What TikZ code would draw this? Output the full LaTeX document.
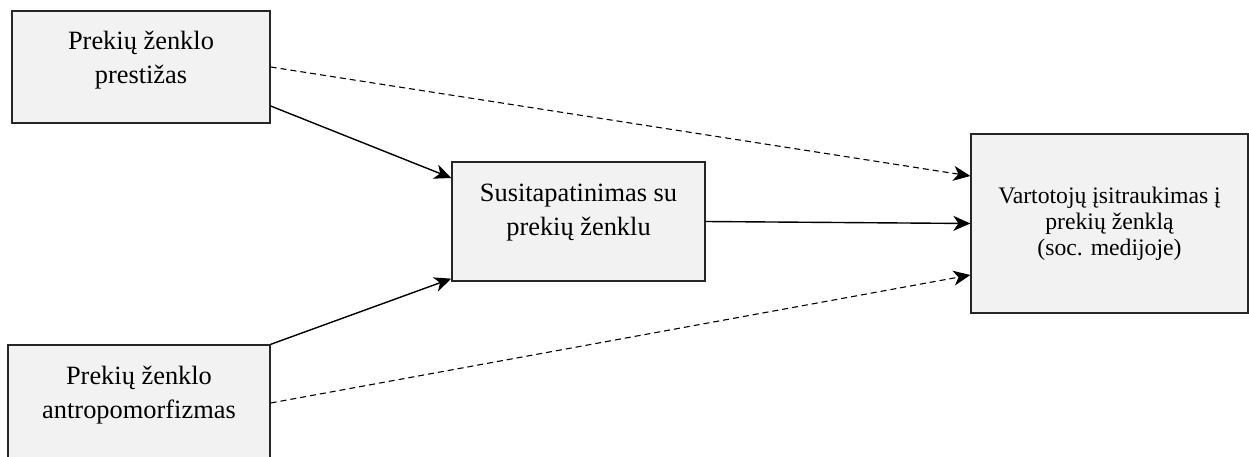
\documentclass[tikz,border=0pt]{standalone}
\usepackage{fontspec}
\setmainfont{Liberation Serif}
\usetikzlibrary{arrows.meta}
\definecolor{boxfill}{HTML}{F2F2F2}
\begin{document}
\begin{tikzpicture}[x=1pt,y=-1pt,
  box/.style={draw=black!85,line width=1.3pt,fill=boxfill,rectangle,inner sep=0pt},
  bigtext/.style={align=center,font=\fontsize{26.4}{34}\selectfont,inner sep=0pt},
  smalltext/.style={align=center,font=\fontsize{23.7}{25.8}\selectfont,inner sep=0pt},
  link/.style={line width=1.4pt,-{Stealth[length=17pt,width=15pt,inset=5pt]}},
  dashlink/.style={link,line width=1.1pt,dash pattern=on 6pt off 4pt}]
\useasboundingbox (0,0) rectangle (1249,457);

% boxes
\node[box,minimum width=258pt,minimum height=112pt] (prest) at (141,67) {};
\node[box,minimum width=262pt,minimum height=116pt] (antro) at (139,403) {};
\node[box,minimum width=253pt,minimum height=119pt] (ident) at (578.5,221.5) {};
\node[box,minimum width=277pt,minimum height=179pt] (engage) at (1109.5,223.5) {};

% box labels
\node[bigtext] (prestT) at (141,60) {Prekių ženklo\\prestižas};
\node[bigtext] (antroT) at (139,395.5) {Prekių ženklo\\antropomorfizmas};
\node[bigtext] (identT) at (578.5,213) {Susitapatinimas su\\prekių ženklu};
\node[smalltext] (engageT) at (1109.5,223.5) {Vartotojų įsitraukimas į\\prekių ženklą\\(soc. medijoje)};

% direct and mediated paths
\draw[link] ([yshift=-39pt]prest.east) -- ([yshift=43.5pt]ident.west);
\draw[link] (antro.north east) -- ([yshift=3pt]ident.south west);
\draw[link] (ident.east) -- (engage.west);
\draw[dashlink] (prest.east) -- ([yshift=47.5pt]engage.west);
\draw[dashlink] (antro.east) -- ([yshift=-51.5pt]engage.west);
\end{tikzpicture}
\end{document}
